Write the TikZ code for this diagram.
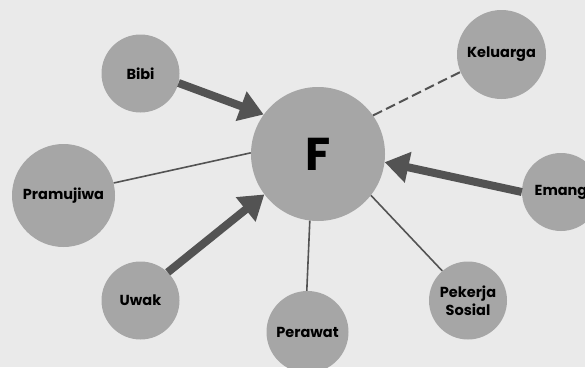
\documentclass[tikz,border=0pt]{standalone}
\usepackage{fontspec}
\setmainfont{Poppins}
\usetikzlibrary{arrows.meta, positioning}

\definecolor{paper}{HTML}{EAEAEA}
\definecolor{disc}{HTML}{A6A6A6}
\definecolor{wire}{HTML}{535353}

\begin{document}
\begin{tikzpicture}[
      x=1pt, y=1pt, on grid, >={Triangle[length=24pt,width=30pt]},
      person/.style={circle, fill=disc, inner sep=0pt, align=center,
        font=\bfseries\fontsize{14.5}{18}\selectfont},
      tie/.style={draw=wire, line width=1.6pt},
      pull/.style={draw=wire, line width=8pt, ->},
      ]

      \fill[paper] (0,0) rectangle (585,-367);
      \useasboundingbox (0,0) rectangle (585,-367);

      \node[person, minimum size=134pt, font=\bfseries\fontsize{46}{46}\selectfont]
                                  (f)        at (318,-154)                    {F};
      \node[person, minimum size=78pt]  (bibi)     [above left=80.5pt and 177.5pt of f]  {Bibi};
      \node[person, minimum size=89pt]  (keluarga) [above right=99.5pt and 183.5pt of f] {Keluarga};
      \node[person, minimum size=103pt] (pramujiwa) [below left=41.5pt and 254.5pt of f] {Pramujiwa};
      \node[person, minimum size=78pt]  (emang)    [below right=38pt and 243pt of f]    {Emang};
      \node[person, minimum size=78pt]  (uwak)     [below left=146.5pt and 177.5pt of f] {Uwak};
      \node[person, minimum size=82pt]  (perawat)  [below left=178pt and 10.5pt of f]   {Perawat};
      \node[person, minimum size=78pt]  (pekerja)  [below right=146.5pt and 150pt of f] {Pekerja\\Sosial};

      % plain ties
      \draw[tie] (pramujiwa.14) -- (f.179);
      \draw[tie] (perawat.91)   -- (f.263);
      \draw[tie] (pekerja.131)  -- (f.-38);
      \draw[tie, line width=2pt, dash pattern=on 10pt off 4.5pt] (f.35) -- (keluarga.203);

      % strong ties
      \draw[pull] (bibi.-14)  -- (f.144);
      \draw[pull] (uwak.46)   -- (f.217);
      \draw[pull] (emang.180) -- (f.-7);
    \end{tikzpicture}
\end{document}
